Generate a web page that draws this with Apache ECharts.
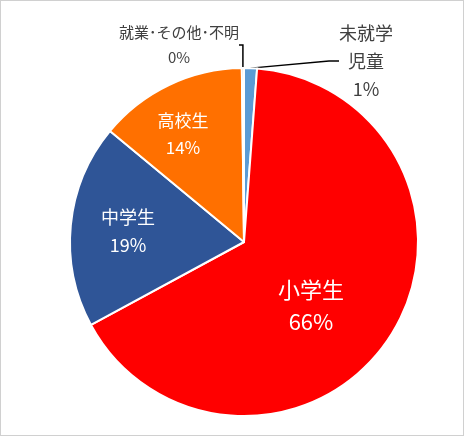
<!DOCTYPE html>
<html><head><meta charset="utf-8">
<script src="https://cdn.jsdelivr.net/npm/echarts@6/dist/echarts.min.js"></script>
<style>html,body{margin:0;padding:0;}#container{width:464px;height:436px;box-sizing:border-box;border:1px solid #d0d0d0;}</style>
</head><body><div id="container"></div>
<script>
var names = ['未就学\n児童', '小学生', '中学生', '高校生', '就業･その他･不明'];
var values = [1.2, 65.9, 18.9, 13.8, 0.2];
var labelText = ['1%', '66%', '19%', '14%', '0%'];
var colors = ['#5b9bd5', '#ff0000', '#2f5597', '#ff7000', '#a5a5a5'];

var dom = document.getElementById('container');
var myChart = echarts.init(dom, null, { renderer: 'canvas' });

// label anchor points (in pixels)
var spots = [[365, 60], [310, 305], [127, 230], [182, 133], [178, 44]];
var fonts = [18, 22, 18, 17, 15];

var option = {
    backgroundColor: '#ffffff',
    series: [{
        type: 'pie',
        center: [243, 241],
        radius: [0, 174],
        startAngle: 90,
        clockwise: true,
        animation: false,
        itemStyle: { borderColor: '#ffffff', borderWidth: 2 },
        data: names.map(function (n, i) {
            var outside = i === 0 || i === 4;
            return {
                name: n,
                value: values[i],
                itemStyle: { color: colors[i] },
                label: {
                    show: true,
                    position: outside ? 'outside' : 'inside',
                    formatter: n + '\n' + labelText[i],
                    color: outside ? '#404040' : '#ffffff',
                    fontSize: fonts[i],
                    lineHeight: fonts[i] + 10,
                    align: 'center',
                    fontFamily: 'Noto Sans CJK JP'
                },
                labelLine: { show: outside, lineStyle: { color: '#000000', width: 1.5 }, length: 10, length2: 10 }
            };
        }),
        labelLayout: function (p) {
            return { x: spots[p.dataIndex][0], y: spots[p.dataIndex][1], align: 'center', verticalAlign: 'middle' };
        }
    }]
};
myChart.setOption(option);
window.addEventListener('resize', myChart.resize);
</script></body></html>
